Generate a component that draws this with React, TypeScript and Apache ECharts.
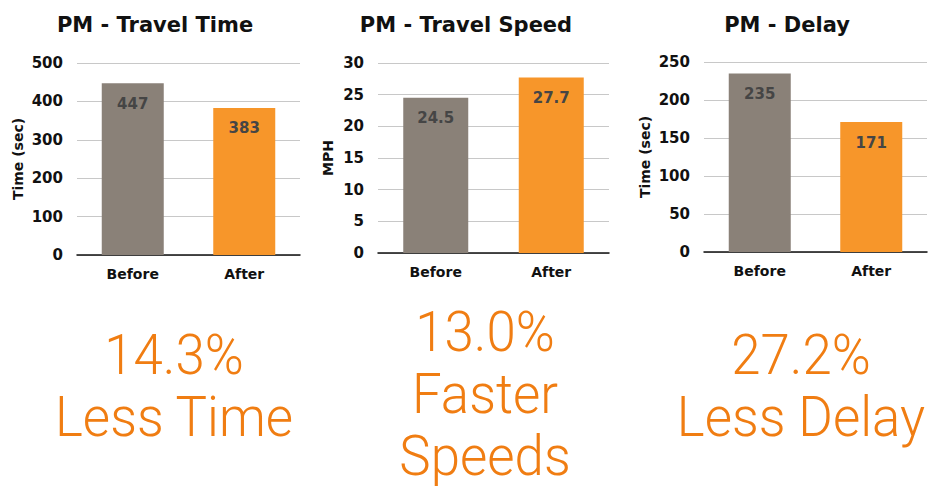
import React, { useEffect, useRef } from "react";
import * as echarts from "echarts";

const categories = ["Before", "After"];
const travelTime = [447, 383];
const travelSpeed = [24.5, 27.7];
const delay = [235, 171];
const chartTitles = ["PM - Travel Time", "PM - Travel Speed", "PM - Delay"];
const axisNames = ["Time (sec)", "MPH", "Time (sec)"];
const axisMax = [500, 30, 250];
const axisInterval = [100, 5, 50];
const summaryLines = [
  ["14.3%", "Less Time"],
  ["13.0%", "Faster", "Speeds"],
  ["27.2%", "Less Delay"],
];

const BEFORE_COLOR = "#8A8178";
const AFTER_COLOR = "#F7962A";
const TEXT_ORANGE = "#F07D12";

const grids = [
  { left: 77, top: 63, width: 223, height: 192, barWidth: 62, titleX: 150, nameGap: 52 },
  { left: 378, top: 63, width: 231, height: 190, barWidth: 65, titleX: 461, nameGap: 43 },
  { left: 704, top: 62, width: 223, height: 190, barWidth: 62, titleX: 782, nameGap: 52 },
];
const summaryLayout = [
  { x: 174, y: 355 },
  { x: 485, y: 332 },
  { x: 801, y: 355 },
];
const LINE_GAP = 62;

export default function App() {
  const ref = useRef<HTMLDivElement>(null);
  useEffect(() => {
    document.body.style.margin = "0";
    if (!ref.current) return;
    const chart = echarts.init(ref.current, undefined, { renderer: "svg" });
    const seriesData = [travelTime, travelSpeed, delay];
    const graphics: any[] = [];
    summaryLines.forEach((lines, i) => {
      lines.forEach((t, j) => {
        graphics.push({
          type: "text",
          x: summaryLayout[i].x,
          y: summaryLayout[i].y + j * LINE_GAP,
          scaleX: 0.96,
          style: {
            text: t,
            fill: TEXT_ORANGE,
            font: '300 55px Roboto, "Noto Sans", sans-serif',
            textAlign: "center",
            textVerticalAlign: "middle",
          },
        });
      });
    });
    chart.setOption({
      animation: false,
      backgroundColor: "#ffffff",
      title: chartTitles.map((t, i) => ({
        text: t,
        left: grids[i].titleX,
        top: 9,
        textAlign: "center",
        textStyle: {
          fontFamily: "DejaVu Sans",
          fontWeight: "bold",
          fontSize: 21,
          color: "#111111",
        },
      })),
      grid: grids.map((g) => ({ left: g.left, top: g.top, width: g.width, height: g.height })),
      xAxis: grids.map((g, i) => ({
        type: "category",
        gridIndex: i,
        data: categories,
        axisTick: { show: false },
        axisLine: { lineStyle: { color: "#111111", width: 1.5 } },
        axisLabel: {
          fontFamily: "DejaVu Sans",
          fontWeight: "bold",
          fontSize: 14,
          color: "#111111",
          margin: 12,
        },
      })),
      yAxis: grids.map((g, i) => ({
        type: "value",
        gridIndex: i,
        min: 0,
        max: axisMax[i],
        interval: axisInterval[i],
        name: axisNames[i],
        nameLocation: "middle",
        nameGap: g.nameGap,
        nameTextStyle: {
          fontFamily: "DejaVu Sans",
          fontWeight: "bold",
          fontSize: 14,
          color: "#111111",
        },
        axisLine: { show: false },
        axisTick: { show: false },
        splitLine: { lineStyle: { color: "#C8C8C8", width: 1.2 } },
        axisLabel: {
          fontFamily: "DejaVu Sans",
          fontWeight: "bold",
          fontSize: 15,
          color: "#111111",
          margin: 14,
        },
      })),
      series: seriesData.map((d, i) => ({
        type: "bar",
        xAxisIndex: i,
        yAxisIndex: i,
        barWidth: grids[i].barWidth,
        data: d.map((v, k) => ({
          value: v,
          itemStyle: { color: k === 0 ? BEFORE_COLOR : AFTER_COLOR },
        })),
        label: {
          show: true,
          position: "insideTop",
          distance: 13,
          fontFamily: "DejaVu Sans",
          fontWeight: "bold",
          fontSize: 15,
          color: "#454545",
        },
      })),
      graphic: graphics,
    });
    return () => chart.dispose();
  }, []);
  return <div ref={ref} style={{ width: 931, height: 487 }} />;
}
